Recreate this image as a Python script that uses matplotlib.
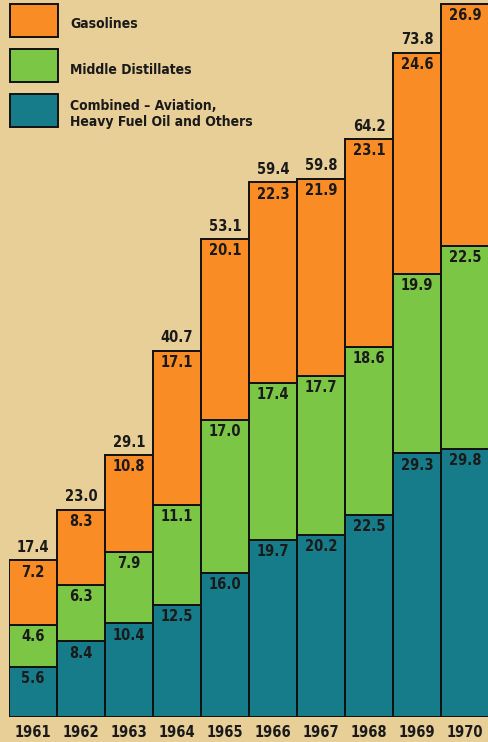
import matplotlib
matplotlib.use("Agg")
import matplotlib.pyplot as plt
from matplotlib.patches import Rectangle

years = ["1961", "1962", "1963", "1964", "1965", "1966", "1967", "1968", "1969", "1970"]
combined = [5.6, 8.4, 10.4, 12.5, 16.0, 19.7, 20.2, 22.5, 29.3, 29.8]
middle = [4.6, 6.3, 7.9, 11.1, 17.0, 17.4, 17.7, 18.6, 19.9, 22.5]
gasoline = [7.2, 8.3, 10.8, 17.1, 20.1, 22.3, 21.9, 23.1, 24.6, 26.9]
# 1970 total runs off the top of the page, so only nine are printed
totals = [17.4, 23.0, 29.1, 40.7, 53.1, 59.4, 59.8, 64.2, 73.8]

BG = "#e8ce97"
ORANGE = "#fa8c26"
GREEN = "#7cc646"
TEAL = "#167c89"
FONT = dict(family="DejaVu Sans", stretch="condensed", weight="bold", color="#1a1a1a")

W, H = 488, 742
fig = plt.figure(figsize=(W / 100, H / 100), dpi=100, facecolor=BG)
ax = fig.add_axes([9 / W, 25 / H, 480 / W, 717 / H])
ax.set_facecolor(BG)
ax.set_xlim(-0.5, 9.5)
ax.set_ylim(0, 717 / 9.0)
ax.axis("off")

x = list(range(len(years)))
bottom2 = [a + b for a, b in zip(combined, middle)]
kw = dict(width=1.0, edgecolor="#111111", linewidth=1.4)
ax.bar(x, combined, color=TEAL, **kw)
ax.bar(x, middle, bottom=combined, color=GREEN, **kw)
ax.bar(x, gasoline, bottom=bottom2, color=ORANGE, **kw)

for i in x:
    for top, v in [(combined[i], combined[i]), (bottom2[i], middle[i]),
                   (bottom2[i] + gasoline[i], gasoline[i])]:
        ax.text(i, top - 1.3, f"{v:.1f}", ha="center", va="center", fontsize=10.5, **FONT)
    ax.text(i, -1.75, years[i], ha="center", va="center", fontsize=10.5,
            clip_on=False, **FONT)

for i, t in enumerate(totals):
    ax.text(i, t + 1.45, f"{t:.1f}", ha="center", va="center", fontsize=10.5, **FONT)

# legend boxes and labels, placed in pixels
def px(x0, y0, w, h):
    return (x0 / W, 1 - (y0 + h) / H), w / W, h / H

for (y0, c) in [(4, ORANGE), (49, GREEN), (94, TEAL)]:
    xy, w, h = px(10, y0, 48, 33)
    fig.add_artist(Rectangle(xy, w, h, transform=fig.transFigure, facecolor=c,
                             edgecolor="#111111", linewidth=1.4))
fig.text(70 / W, 1 - 24 / H, "Gasolines", ha="left", va="center", fontsize=10, **FONT)
fig.text(70 / W, 1 - 70 / H, "Middle Distillates", ha="left", va="center", fontsize=10, **FONT)
fig.text(70 / W, 1 - 114 / H, "Combined – Aviation,\nHeavy Fuel Oil and Others",
         ha="left", va="center", fontsize=10, linespacing=1.25, **FONT)

fig.savefig("out.png", dpi=100, facecolor=BG)
